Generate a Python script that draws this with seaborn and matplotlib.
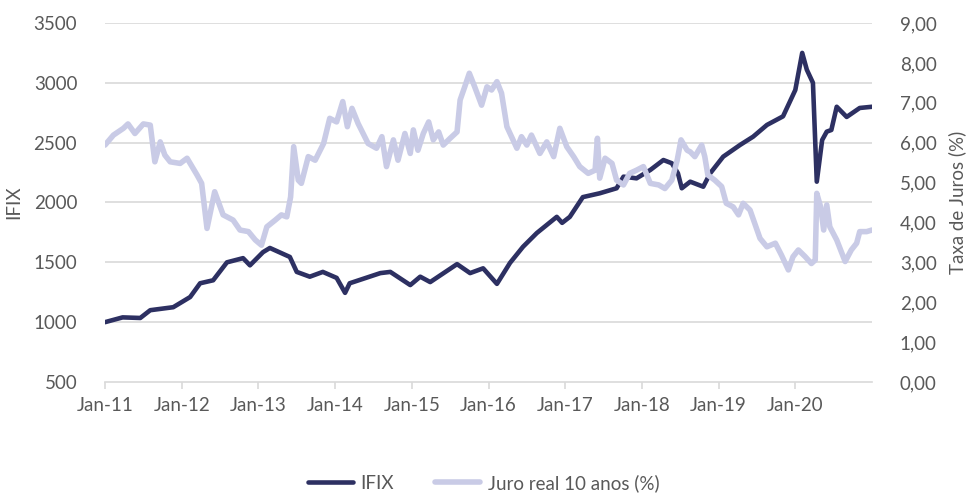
import matplotlib
matplotlib.use("Agg")
import matplotlib.pyplot as plt
import seaborn as sns
import pandas as pd

# IFIX index (left axis), x in decimal years
ifix_t = [2011.00, 2011.23, 2011.46, 2011.59, 2011.89, 2012.11, 2012.24, 2012.41, 2012.59,
          2012.80, 2012.89, 2013.06, 2013.15, 2013.41, 2013.50, 2013.67, 2013.84, 2014.02,
          2014.13, 2014.19, 2014.59, 2014.72, 2014.98, 2015.11, 2015.24, 2015.59, 2015.76,
          2015.93, 2016.11, 2016.28, 2016.45, 2016.63, 2016.89, 2016.96, 2017.06, 2017.23,
          2017.45, 2017.67, 2017.76, 2017.93, 2018.11, 2018.28, 2018.39, 2018.47, 2018.52,
          2018.63, 2018.80, 2018.89, 2019.06, 2019.28, 2019.45, 2019.63, 2019.84, 2020.00,
          2020.09, 2020.15, 2020.23, 2020.28, 2020.35, 2020.41, 2020.47, 2020.54, 2020.67,
          2020.84, 2021.00]
ifix_v = [1000, 1040, 1035, 1100, 1125, 1210, 1325, 1350, 1500,
          1535, 1475, 1585, 1620, 1545, 1420, 1380, 1420, 1370,
          1245, 1325, 1410, 1420, 1310, 1380, 1335, 1485, 1410,
          1450, 1320, 1495, 1630, 1745, 1880, 1830, 1880, 2045,
          2077, 2119, 2216, 2202, 2272, 2355, 2328, 2244, 2119,
          2174, 2132, 2244, 2383, 2481, 2550, 2648, 2720, 2940,
          3250, 3110, 3000, 2174, 2522, 2592, 2606, 2800, 2715,
          2790, 2800]

# Juro real 10 anos (right axis)
juro_t = [2011.00, 2011.11, 2011.24, 2011.30, 2011.39, 2011.50, 2011.59, 2011.65, 2011.72,
          2011.78, 2011.85, 2011.98, 2012.07, 2012.20, 2012.26, 2012.33, 2012.43, 2012.54,
          2012.67, 2012.76, 2012.87, 2012.96, 2013.04, 2013.11, 2013.22, 2013.30, 2013.37,
          2013.42, 2013.46, 2013.52, 2013.56, 2013.65, 2013.74, 2013.85, 2013.93, 2014.02,
          2014.10, 2014.16, 2014.22, 2014.30, 2014.43, 2014.54, 2014.61, 2014.67, 2014.76,
          2014.82, 2014.91, 2014.98, 2015.02, 2015.08, 2015.15, 2015.22, 2015.28, 2015.35,
          2015.41, 2015.50, 2015.59, 2015.63, 2015.69, 2015.75, 2015.82, 2015.91, 2015.98,
          2016.04, 2016.11, 2016.17, 2016.24, 2016.30, 2016.37, 2016.43, 2016.50, 2016.56,
          2016.67, 2016.76, 2016.85, 2016.93, 2017.02, 2017.11, 2017.19, 2017.30, 2017.39,
          2017.42, 2017.45, 2017.52, 2017.61, 2017.67, 2017.76, 2017.84, 2017.93, 2018.02,
          2018.11, 2018.22, 2018.30, 2018.39, 2018.46, 2018.51, 2018.59, 2018.63, 2018.69,
          2018.78, 2018.82, 2018.86, 2018.95, 2019.04, 2019.10, 2019.19, 2019.26, 2019.32,
          2019.41, 2019.47, 2019.54, 2019.63, 2019.74, 2019.82, 2019.91, 2019.97, 2020.04,
          2020.13, 2020.21, 2020.26, 2020.28, 2020.33, 2020.37, 2020.41, 2020.45, 2020.54,
          2020.65, 2020.73, 2020.80, 2020.84, 2020.93, 2021.00]
juro_v = [5.94, 6.19, 6.36, 6.47, 6.23, 6.47, 6.44, 5.52, 6.02,
          5.69, 5.52, 5.48, 5.61, 5.19, 4.98, 3.85, 4.77, 4.19,
          4.06, 3.81, 3.77, 3.56, 3.43, 3.89, 4.06, 4.19, 4.14,
          4.64, 5.90, 5.06, 4.98, 5.65, 5.56, 5.98, 6.61, 6.52,
          7.03, 6.40, 6.86, 6.48, 5.98, 5.86, 6.15, 5.40, 6.07,
          5.56, 6.23, 5.73, 6.32, 5.81, 6.23, 6.52, 6.07, 6.27,
          5.94, 6.11, 6.27, 7.07, 7.40, 7.74, 7.40, 6.94, 7.40,
          7.32, 7.53, 7.24, 6.40, 6.15, 5.86, 6.15, 5.94, 6.19,
          5.73, 6.02, 5.65, 6.36, 5.90, 5.65, 5.40, 5.23, 5.31,
          6.11, 5.11, 5.61, 5.48, 5.06, 4.94, 5.23, 5.31, 5.40,
          4.98, 4.94, 4.85, 5.06, 5.56, 6.07, 5.81, 5.77, 5.65,
          5.94, 5.65, 5.19, 5.06, 4.90, 4.48, 4.39, 4.19, 4.48,
          4.31, 3.98, 3.60, 3.39, 3.48, 3.18, 2.81, 3.14, 3.31,
          3.14, 2.97, 3.06, 4.73, 4.39, 3.81, 4.44, 3.89, 3.56,
          3.02, 3.31, 3.48, 3.77, 3.77, 3.81]

year_ticks = list(range(2011, 2021))
year_labels = [f"Jan-{y % 100:02d}" for y in year_ticks]

left_ticks = [500, 1000, 1500, 2000, 2500, 3000, 3500]
right_ticks = list(range(0, 10))

DARK = "#2D3062"
LIGHT = "#C9CBE6"
GRID = "#D9D9D9"
TXT = "#595959"

sns.set_style("white")
plt.rcParams["font.family"] = ["Lato", "DejaVu Sans"]

fig = plt.figure(figsize=(9.67, 4.93), dpi=100)
ax = fig.add_axes([105 / 967, 1 - 382 / 493, 767 / 967, 359 / 493])
ax2 = ax.twinx()

df_ifix = pd.DataFrame({"t": ifix_t, "v": ifix_v})
df_juro = pd.DataFrame({"t": juro_t, "v": juro_v})

sns.lineplot(data=df_ifix, x="t", y="v", ax=ax, color=DARK, linewidth=3.3,
             label="IFIX", legend=False)
sns.lineplot(data=df_juro, x="t", y="v", ax=ax2, color=LIGHT, linewidth=4.0,
             label="Juro real 10 anos (%)", legend=False)

ax.set_xlim(2011, 2021)
ax.set_ylim(500, 3500)
ax2.set_ylim(0, 9)

ax.set_yticks(left_ticks)
ax.set_yticklabels([str(v) for v in left_ticks])
ax2.set_yticks(right_ticks)
ax2.set_yticklabels([f"{v:.2f}".replace(".", ",") for v in right_ticks])
ax.set_xticks(year_ticks)
ax.set_xticklabels(year_labels)

for a in (ax, ax2):
    for s in a.spines.values():
        s.set_visible(False)
ax.spines["bottom"].set_visible(True)
ax.spines["bottom"].set_color(GRID)
ax.spines["bottom"].set_linewidth(1.2)

ax.grid(False)
ax2.grid(False)
for v in left_ticks[1:]:
    ax.axhline(v, color=GRID, linewidth=1.2, zorder=0)

ax.tick_params(axis="x", which="both", direction="out", length=5, width=1.2,
               color=GRID, labelcolor=TXT, labelsize=13.5, pad=6, bottom=True)
ax.tick_params(axis="y", length=0, labelcolor=TXT, labelsize=13.5, pad=20)
ax2.tick_params(axis="y", length=0, labelcolor=TXT, labelsize=13.5, pad=20)

ax.set_xlabel("")
ax.set_ylabel("IFIX", color=TXT, fontsize=13.5, labelpad=8)
ax2.set_xlabel("")
ax2.set_ylabel("Taxa de Juros (%)", color=TXT, fontsize=13.5, labelpad=8)

h1 = ax.get_lines()[0]
h2 = ax2.get_lines()[0]
fig.legend([h1, h2], ["IFIX", "Juro real 10 anos (%)"], loc="center",
           bbox_to_anchor=(0.5, 1 - 483 / 493), ncol=2, frameon=False,
           fontsize=13.5, labelcolor=TXT, handlelength=2.4, columnspacing=2.2,
           handletextpad=0.4)

fig.savefig("out.png", dpi=100)
